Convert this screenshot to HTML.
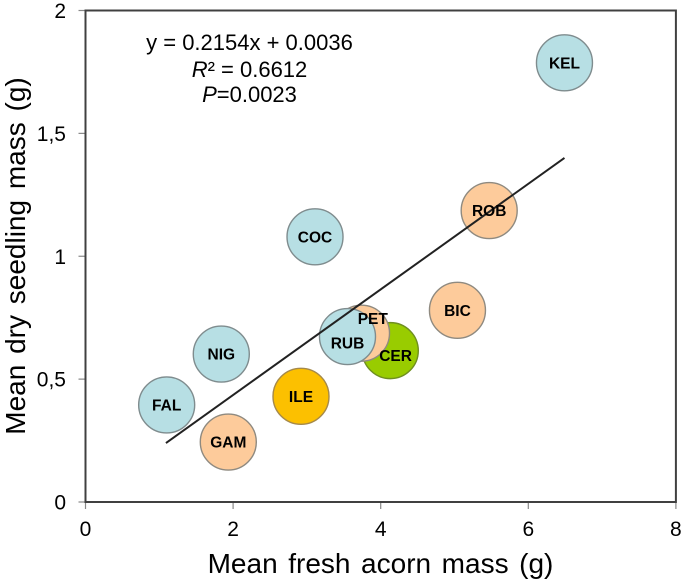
<!DOCTYPE html>
<html>
<head>
<meta charset="utf-8">
<style>
html,body{margin:0;padding:0;background:#fff;}
svg{display:block;font-family:"Liberation Sans",Arial,sans-serif;filter:blur(0.3px);}
</style>
</head>
<body>
<svg id="chart" width="685" height="582" viewBox="0 0 685 582" xmlns="http://www.w3.org/2000/svg">
<g id="axes"></g>
<g id="points"></g>
<g id="trend"></g>
<g id="labels"></g>
<g font-size="22" fill="#000" text-anchor="middle">
<text x="249.5" y="50">y = 0.2154x + 0.0036</text>
<text x="249.5" y="77"><tspan font-style="italic">R</tspan>² = 0.6612</text>
<text x="249.5" y="102"><tspan font-style="italic">P</tspan>=0.0023</text>
</g>
<text x="380.5" y="573" font-size="28" fill="#000" text-anchor="middle" word-spacing="2.8">Mean fresh acorn mass (g)</text>
<text transform="translate(25 256) rotate(-90)" font-size="28" fill="#000" text-anchor="middle" word-spacing="3">Mean dry seedling mass (g)</text>
</svg>
<script>
var species = ['CER','PET','RUB','KEL','ROB','BIC','COC','NIG','FAL','GAM','ILE'];
var massX = [4.13,3.74,3.55,6.49,5.47,5.04,3.11,1.84,1.10,1.935,2.92];
var massY = [0.616,0.687,0.673,1.787,1.186,0.78,1.079,0.602,0.395,0.244,0.43];
var groups = ['green','peach','blue','blue','peach','peach','blue','blue','blue','peach','amber'];
var xTicks = [0,2,4,6,8];
var yTicks = [0,0.5,1,1.5,2];
var yTickLabels = ['0','0,5','1','1,5','2'];
var trendX = [1.09,6.49];
var trendY = [0.24,1.40];

var NS = 'http://www.w3.org/2000/svg';
var fills = {green:'#99cc00',peach:'#fdcb9b',blue:'#b7dfe4',amber:'#fcc000'};
var strokes = {green:'#6f8f20',peach:'#8f8a80',blue:'#7f8c8e',amber:'#a5894a'};
var labelNudge = {PET:{dx:11.3,dy:-9},RUB:{dx:0,dy:11.7},CER:{dx:5.3,dy:10.4}};
function sx(v){return 85.5 + v * 73.8;}
function sy(v){return 502 - v * 245.75;}
function make(tag, attrs, parent){
  var el = document.createElementNS(NS, tag);
  for (var k in attrs) el.setAttribute(k, attrs[k]);
  parent.appendChild(el);
  return el;
}
var axes = document.getElementById('axes');
xTicks.forEach(function(t){
  var tick = make('line', {x1:sx(t), x2:sx(t), y1:sy(0), y2:sy(0)+7, stroke:'#888', 'stroke-width':1.2}, axes);
  
  
  var lab = make('text', {x:sx(t), y:536, 'font-size':21, fill:'#000', 'text-anchor':'middle'}, axes);
  
  
  lab.textContent = String(t);
});
yTicks.forEach(function(t, i){
  var tick = make('line', {x1:sx(0)-7, x2:sx(0), y1:sy(t), y2:sy(t), stroke:'#888', 'stroke-width':1.2}, axes);
  
  
  var lab = make('text', {x:66, y:sy(t)+7.5, 'font-size':21, fill:'#000', 'text-anchor':'end'}, axes);
  
  
  lab.textContent = yTickLabels[i];
});
var frame = make('rect', {x:sx(0), y:sy(2), width:sx(8)-sx(0), height:sy(0)-sy(2), fill:'none', stroke:'#404040', 'stroke-width':2}, axes);


var pts = document.getElementById('points');
var lbs = document.getElementById('labels');
species.forEach(function(s, i){
  var nudge = labelNudge[s] || {dx:0,dy:5.5};
  var c = make('circle', {cx:sx(massX[i]), cy:sy(massY[i]), r:28, fill:fills[groups[i]], stroke:strokes[groups[i]], 'stroke-width':1.4}, pts);
  
  
  var t = make('text', {x:sx(massX[i])+nudge.dx, y:sy(massY[i])+nudge.dy, 'font-size':15.5, 'font-weight':'bold', fill:'#000', 'text-anchor':'middle'}, lbs);
  
  
  t.textContent = s;
});
var trend = make('line', {x1:sx(trendX[0]), y1:sy(trendY[0]), x2:sx(trendX[1]), y2:sy(trendY[1]), stroke:'#222', 'stroke-width':2}, document.getElementById('trend'));


</script>
</body>
</html>
